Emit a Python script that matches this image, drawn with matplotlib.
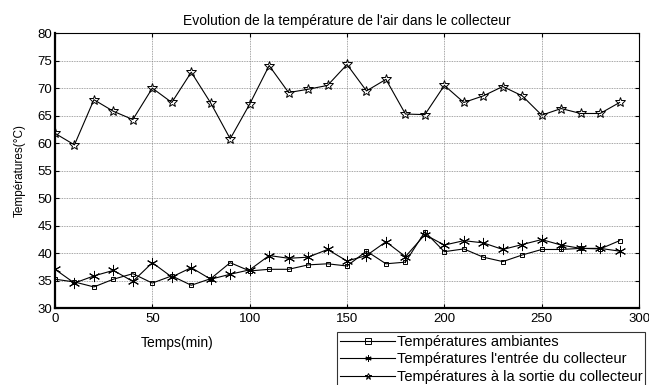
import matplotlib
matplotlib.use('Agg')
import matplotlib.pyplot as plt

temps = list(range(0, 300, 10))

t_ambiante = [35.3, 34.8, 33.9, 35.3, 36.3, 34.6, 35.9, 34.2, 35.4, 38.3,
              36.8, 37.1, 37.1, 37.9, 38.1, 37.7, 40.4, 38.1, 38.4, 43.9,
              40.3, 40.8, 39.3, 38.5, 39.7, 40.7, 40.7, 40.9, 40.8, 42.3]
t_entree = [37.1, 34.6, 35.9, 36.9, 34.9, 38.3, 35.7, 37.4, 35.3, 36.2,
            37.0, 39.6, 39.1, 39.3, 40.7, 38.6, 39.6, 42.1, 39.4, 43.4,
            41.5, 42.3, 41.9, 40.7, 41.6, 42.5, 41.5, 40.9, 40.9, 40.4]
t_sortie = [61.8, 59.7, 67.9, 65.8, 64.3, 70.0, 67.4, 72.9, 67.3, 60.8,
            67.1, 74.1, 69.2, 69.8, 70.5, 74.3, 69.5, 71.6, 65.3, 65.2,
            70.5, 67.4, 68.6, 70.3, 68.6, 65.1, 66.3, 65.4, 65.4, 67.4]

labels = ["Températures ambiantes",
          "Températures l'entrée du collecteur",
          "Températures à la sortie du collecteur"]

plt.rcParams['font.family'] = ['Liberation Sans', 'DejaVu Sans']

fig = plt.figure(figsize=(6.49, 3.85), dpi=100)
ax = fig.add_axes([0.0847, 0.199, 0.900, 0.715])

asterisk = (6, 2, 0)
ax.plot(temps, t_ambiante, 'k-', lw=0.8, marker='s', ms=3.5, mfc='none',
        mew=0.7, label=labels[0])
ax.plot(temps, t_entree, 'k-', lw=0.8, marker=asterisk, ms=8,
        mew=0.7, label=labels[1])
ax.plot(temps, t_sortie, 'k-', lw=0.8, marker='*', ms=7, mfc='none',
        mew=0.7, label=labels[2])

ax.set_xlim(0, 300)
ax.set_ylim(30, 80)
ax.set_xticks(range(0, 301, 50))
ax.set_yticks(range(30, 81, 5))
ax.grid(True, color='#888888', linestyle=(0, (1, 1)), lw=0.6)
ax.tick_params(direction='in', top=True, right=True, labelsize=9.5, length=3)
ax.tick_params(axis='x', pad=3)
ax.tick_params(axis='y', pad=2)
for s in ['left', 'bottom']:
    ax.spines[s].set_linewidth(1.6)
for s in ['top', 'right']:
    ax.spines[s].set_linewidth(0.8)

ax.set_title("Evolution de la température de l'air dans le collecteur",
             fontsize=10, pad=6)
ax.set_ylabel("Températures(°C)", fontsize=8.5)
ax.yaxis.set_label_coords(-29 / 584, 0.5)
fig.text(177 / 649, 1 - 343 / 385, "Temps(min)", fontsize=10,
         ha='center', va='center')

leg = fig.legend(loc='upper left', bbox_to_anchor=(337 / 649, 1 - 332 / 385),
                 fontsize=10.5, handlelength=3.8, frameon=True, fancybox=False,
                 edgecolor='black', borderaxespad=0, borderpad=0.2,
                 labelspacing=0.24, handletextpad=0.1)
leg.get_frame().set_linewidth(0.8)
for h in leg.legend_handles:
    h.set_markersize(4.5)

fig.savefig('out.png', dpi=100)
